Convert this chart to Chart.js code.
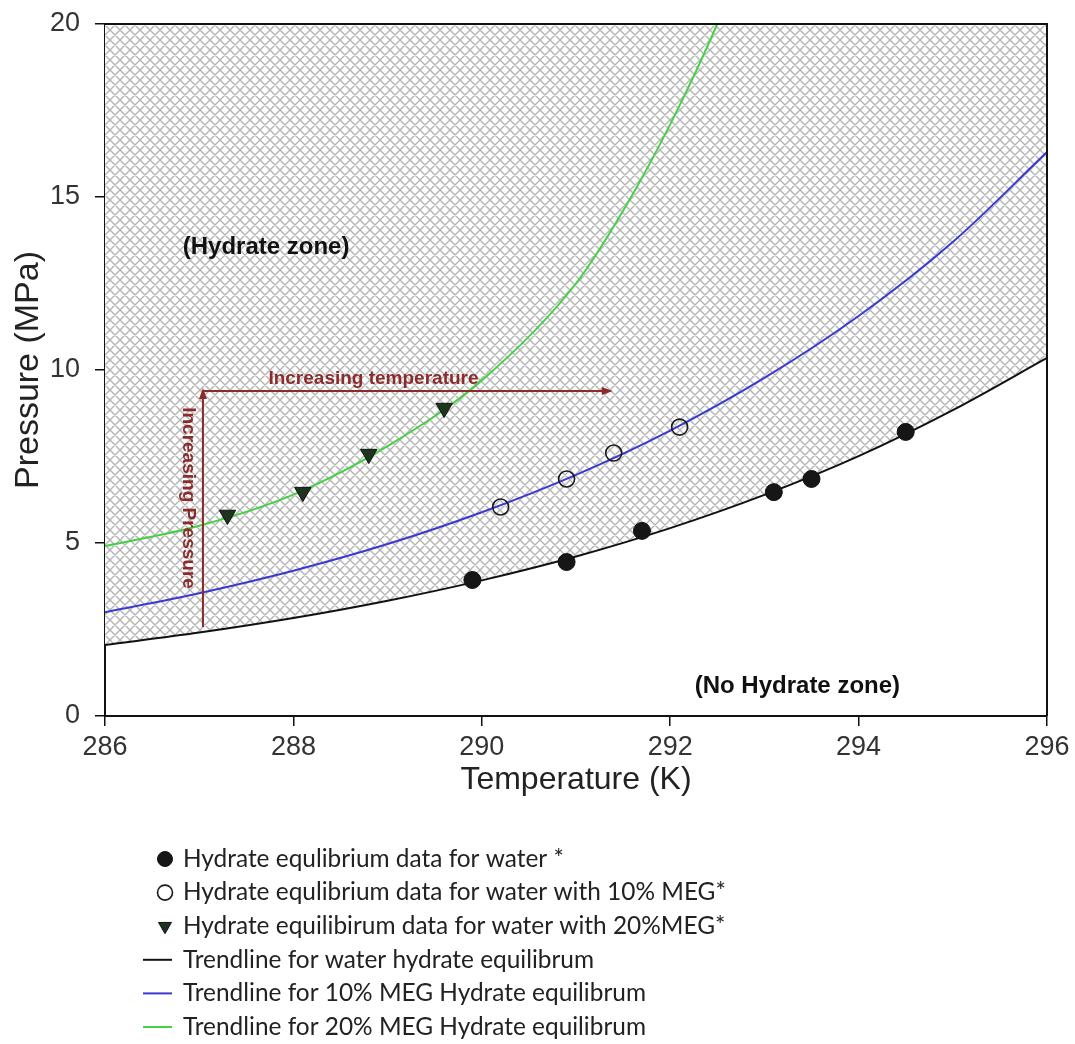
<!DOCTYPE html>
<html>
<head>
<meta charset="utf-8">
<script src="https://cdn.jsdelivr.net/npm/chart.js@4.4.1/dist/chart.umd.min.js"></script>
<style>
html,body{margin:0;padding:0;background:#fff;}
#wrap{width:1075px;height:1044px;position:relative;}
</style>
</head>
<body>
<div id="wrap"><canvas id="c" width="1075" height="1044"></canvas></div>
<script>
// ---- data ----
const waterT = [289.9, 290.9, 291.7, 293.1, 293.5, 294.5];
const waterP = [3.93, 4.45, 5.35, 6.47, 6.85, 8.21];
const meg10T = [290.2, 290.9, 291.4, 292.1];
const meg10P = [6.04, 6.85, 7.60, 8.35];
const meg20T = [287.3, 288.1, 288.8, 289.6];
const meg20P = [5.81, 6.47, 7.57, 8.90];

const trendT = [286, 287, 288, 289, 290, 291, 292, 293, 294, 295, 296];
const waterTrendP = [2.05, 2.41, 2.83, 3.33, 3.92, 4.61, 5.43, 6.39, 7.51, 8.84, 10.35];
const meg10TrendP = [3.0, 3.55, 4.2, 4.97, 5.89, 6.97, 8.25, 9.77, 11.56, 13.7, 16.3];
const trend20T = [286, 287, 288, 289, 290, 291, 291.5, 292, 292.5, 293];
const meg20TrendP = [4.91, 5.5, 6.4, 7.8, 9.7, 12.5, 14.6, 17.1, 20.0, 23.4];

const xTicks = [286, 288, 290, 292, 294, 296];
const yTicks = [0, 5, 10, 15, 20];

const legendLabels = [
  'Hydrate equlibrium data for water *',
  'Hydrate equlibrium data for water with 10% MEG*',
  'Hydrate equilibirum data for water with 20%MEG*',
  'Trendline for water hydrate equilibrum',
  'Trendline for 10% MEG Hydrate equilibrum',
  'Trendline for 20% MEG Hydrate equilibrum'
];

const annotationTexts = {
  hydrate: '(Hydrate zone)',
  noHydrate: '(No Hydrate zone)',
  temp: 'Increasing temperature',
  press: 'Increasing Pressure'
};

// ---- styles ----
const FONT = "'Liberation Sans', Arial, sans-serif";
const ARROW = '#8b2b2b';

function xy(xs, ys) { return xs.map((x, i) => ({x: x, y: ys[i]})); }

function makeHatch() {
  const s = 10;
  const cv = document.createElement('canvas');
  cv.width = s; cv.height = s;
  const g = cv.getContext('2d');
  g.fillStyle = '#ffffff';
  g.fillRect(0, 0, s, s);
  g.strokeStyle = '#b4b4b4';
  g.lineWidth = 1.4;
  g.beginPath();
  for (let k = -1; k <= 1; k++) {
    g.moveTo(k * s, 0); g.lineTo(k * s + s, s);
    g.moveTo(k * s, s); g.lineTo(k * s + s, 0);
  }
  g.stroke();
  return g.createPattern(cv, 'repeat');
}

const datasets = [
  {label: legendLabels[0], type: 'scatter', data: xy(waterT, waterP), order: 0,
   pointStyle: 'circle', pointRadius: 8.5, backgroundColor: '#161616', borderColor: '#111', borderWidth: 1},
  {label: legendLabels[1], type: 'scatter', data: xy(meg10T, meg10P), order: 0,
   pointStyle: 'circle', pointRadius: 8, backgroundColor: 'rgba(0,0,0,0)', borderColor: '#1a1a1a', borderWidth: 1.6},
  {label: legendLabels[2], type: 'scatter', data: xy(meg20T, meg20P), order: 0,
   pointStyle: 'triangle', rotation: 180, pointRadius: 9.5, backgroundColor: '#1d351d', borderColor: '#111', borderWidth: 1},
  {label: legendLabels[3], type: 'line', data: xy(trendT, waterTrendP), order: 3,
   borderColor: '#111111', borderWidth: 2, pointRadius: 0, cubicInterpolationMode: 'monotone',
   fill: 'end', backgroundColor: makeHatch()},
  {label: legendLabels[4], type: 'line', data: xy(trendT, meg10TrendP), order: 2,
   borderColor: '#3a3ad2', borderWidth: 2, pointRadius: 0, cubicInterpolationMode: 'monotone', fill: false},
  {label: legendLabels[5], type: 'line', data: xy(trend20T, meg20TrendP), order: 1,
   borderColor: '#45d045', borderWidth: 2, pointRadius: 0, cubicInterpolationMode: 'monotone', fill: false}
];

const frameAndNotes = {
  id: 'frameAndNotes',
  afterDatasetsDraw(chart) {
    const {ctx, chartArea: a, scales: {x, y}} = chart;
    ctx.save();
    // top and right frame
    ctx.strokeStyle = '#111';
    ctx.lineWidth = 2;
    ctx.beginPath();
    ctx.moveTo(a.left, a.top); ctx.lineTo(a.right, a.top); ctx.lineTo(a.right, a.bottom);
    ctx.stroke();

    // arrows
    const x0 = x.getPixelForValue(287.04), x1 = x.getPixelForValue(291.39);
    const yH = y.getPixelForValue(9.39), yB = y.getPixelForValue(2.57);
    ctx.strokeStyle = ARROW; ctx.fillStyle = ARROW; ctx.lineWidth = 2;
    ctx.beginPath();
    ctx.moveTo(x0 - 1, yH); ctx.lineTo(x1 - 8, yH);
    ctx.moveTo(x0, yB); ctx.lineTo(x0, yH + 6);
    ctx.stroke();
    ctx.beginPath();
    ctx.moveTo(x1, yH); ctx.lineTo(x1 - 11, yH - 4); ctx.lineTo(x1 - 11, yH + 4); ctx.closePath();
    ctx.fill();
    ctx.beginPath();
    ctx.moveTo(x0, yH - 3); ctx.lineTo(x0 - 4, yH + 8); ctx.lineTo(x0 + 4, yH + 8); ctx.closePath();
    ctx.fill();

    ctx.textAlign = 'center'; ctx.textBaseline = 'middle';
    ctx.font = "bold 19px " + FONT;
    ctx.fillText(annotationTexts.temp, x.getPixelForValue(288.85), y.getPixelForValue(9.74));
    ctx.save();
    ctx.translate(x.getPixelForValue(286.88), y.getPixelForValue(6.3));
    ctx.rotate(Math.PI / 2);
    ctx.fillText(annotationTexts.press, 0, 0);
    ctx.restore();

    ctx.fillStyle = '#111';
    ctx.font = "bold 24px " + FONT;
    ctx.fillText(annotationTexts.hydrate, x.getPixelForValue(287.71), y.getPixelForValue(13.53));
    ctx.fillText(annotationTexts.noHydrate, x.getPixelForValue(293.35), y.getPixelForValue(0.87));
    ctx.restore();
  }
};

const bottomLegend = {
  id: 'bottomLegend',
  afterDraw(chart) {
    const ctx = chart.ctx;
    ctx.save();
    // size the font so the longest entry spans as in the reference
    ctx.font = "20px Lato, 'Open Sans', sans-serif";
    const w = ctx.measureText(legendLabels[1]).width;
    const size = 20 * 543 / w;
    ctx.font = size.toFixed(2) + "px Lato, 'Open Sans', sans-serif";
    ctx.textBaseline = 'middle';
    ctx.textAlign = 'left';
    const ds = chart.data.datasets;
    for (let i = 0; i < ds.length; i++) {
      const d = ds[i];
      const yy = 859 + i * 33.6;
      if (d.type === 'scatter') {
        ctx.save();
        ctx.lineWidth = d.borderWidth;
        ctx.strokeStyle = d.borderColor;
        ctx.fillStyle = d.backgroundColor;
        Chart.helpers.drawPoint(ctx, {pointStyle: d.pointStyle, rotation: d.rotation || 0, radius: 7.5, borderWidth: d.borderWidth}, 165, yy);
        ctx.restore();
      } else {
        ctx.strokeStyle = d.borderColor;
        ctx.lineWidth = 2;
        ctx.beginPath(); ctx.moveTo(143, yy); ctx.lineTo(172, yy); ctx.stroke();
      }
      ctx.fillStyle = '#222';
      ctx.fillText(d.label, 183, yy);
    }
    ctx.restore();
  }
};

new Chart(document.getElementById('c'), {
  type: 'scatter',
  data: {datasets: datasets},
  plugins: [frameAndNotes, bottomLegend],
  options: {
    responsive: false,
    animation: false,
    layout: {padding: {left: 0, right: 28, top: 24, bottom: 238}},
    plugins: {legend: {display: false}, tooltip: {enabled: false}},
    scales: {
      x: {
        type: 'linear', min: 286, max: 296,
        afterBuildTicks(s) { s.ticks = xTicks.map(v => ({value: v})); },
        ticks: {color: '#333', font: {family: FONT, size: 27}, padding: 5},
        grid: {drawOnChartArea: false, drawTicks: true, tickLength: 10, color: '#111', lineWidth: 1.5},
        border: {display: true, color: '#111', width: 2},
        title: {display: true, text: 'Temperature (K)', color: '#222', font: {family: FONT, size: 32}, padding: {top: 0, bottom: 7}},
        afterFit(s) { s.height = 90; s.paddingLeft = 0; s.paddingRight = 0; }
      },
      y: {
        type: 'linear', min: 0, max: 20,
        afterBuildTicks(s) { s.ticks = yTicks.map(v => ({value: v})); },
        ticks: {color: '#333', font: {family: FONT, size: 27}, padding: 15},
        grid: {drawOnChartArea: false, drawTicks: true, tickLength: 10, color: '#111', lineWidth: 1.5},
        border: {display: true, color: '#111', width: 2},
        title: {display: true, text: 'Pressure (MPa)', color: '#222', font: {family: FONT, size: 34}, padding: {top: 8, bottom: 0}},
        afterFit(s) { s.width = 105; s.paddingTop = 0; s.paddingBottom = 0; }
      }
    }
  }
});
</script>
</body>
</html>
